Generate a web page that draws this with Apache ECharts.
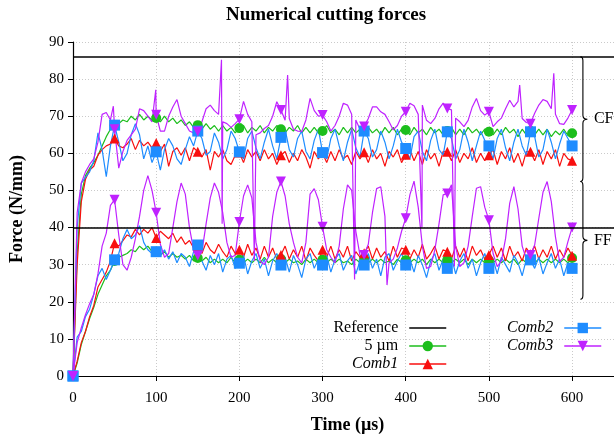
<!DOCTYPE html>
<html>
<head>
<meta charset="utf-8">
<script src="https://cdn.jsdelivr.net/npm/echarts@6/dist/echarts.min.js"></script>
<style>html,body{margin:0;padding:0;background:#fff}#c{width:614px;height:439px}</style>
</head>
<body>
<div id="c"></div>
<script>
// ---- data (time in µs, force in N/mm) ----
const time = [0,5,10,15,20,25,30,35,40,45,50,55,60,65,70,75,80,85,90,95,100,105,110,115,120,125,130,135,140,145,150,155,160,165,170,175,180,185,190,195,200,205,210,215,220,225,230,235,240,245,250,255,260,265,270,275,280,285,290,295,300,305,310,315,320,325,330,335,340,345,350,355,360,365,370,375,380,385,390,395,400,405,410,415,420,425,430,435,440,445,450,455,460,465,470,475,480,485,490,495,500,505,510,515,520,525,530,535,540,545,550,555,560,565,570,575,580,585,590,595,600];

const referenceForces = [86, 40];

const fine5CF = [0,33,49,54,56,57.5,59.5,62,64.5,66.5, 67.5,68,69,68.5,70,69,70.5,69,70,69, 69.5,68.5,70,68.5,69.5,68,69,67.5,68.5,67, 67.6,66.5,68,66.5,67.5,66,67.5,66,67,65.5, 66.8,67.5,65.5,67,66,67.5,65.5,67,66,67.5, 66.5,65.5,67,66,67.5,65.5,67,65.5,67,65.5, 66,67.5,65.5,66.5,65,67,65.5,67,65.5,66.5, 66,67,65.5,66.5,65,67,65.5,67,65,66.5, 66.3,65,67,65.5,66.5,65,67,65.5,66.5,65, 66,67,65,66.5,65,67,65.5,66.5,65,66.5, 65.8,65,66.5,65,67,65.5,66.5,64.5,66.5,65, 66,65,66.5,65,66.5,64.5,66,65,66.5,64.8, 65.4];
const fine5FF = [0,3.5,8.5,12,15.5,18.5,22,24.5,27,28.5, 31,32,32.5,33,34,33.5,35,34,35,33.5, 33.5,32.5,33.5,32,33,32,32.5,31.5,32.5,31, 31.8,31,32,30.5,31.5,30.5,31.5,30.5,32,30.5, 31.3,30.5,31.5,30.5,31.5,30.5,32,30.5,31.5,30.5, 31.5,30.5,31.5,30.5,31,30,31.5,30.5,31.5,30.5, 31.3,30.5,31.5,30.5,31.5,30.5,31,30,31.5,30.5, 31.5,30.5,31.5,30.5,31.5,30.5,31,30,31.5,30.5, 31.2,30.5,31.5,30.5,31.5,30,31.5,30.5,31.5,30.5, 31.3,30.5,31.5,30.5,31.5,30,31.5,30.5,31.5,30.5, 31.2,30.5,31.5,30.5,31.5,30.5,31.5,30,31.5,30.5, 31.3,30.5,31.5,30.5,31.5,30.5,31.5,30.5,31.5,30.5, 31.8];

const comb1CF = [0,30,47,53,55.5,56.5,59.5,61,62,62.5, 64,62,61.5,62.5,64,61,63.5,62,63,61.5, 62.8,60.5,62.5,56.5,60.5,61.5,59.5,61.5,58,61.5, 60.4,59,61,55.5,60.5,59,61,58,57,59.5, 60.2,57.5,61,59,60.5,58,61,58.5,60,57, 59.5,60.5,57.5,60,58,61,59,56,60.5,58.5, 60.1,57.5,60.5,58,61,58.5,59.5,57,60.5,58.5, 60.3,57.5,61,58.5,60,56.5,60.5,59,61,57.5, 59.6,61,58,60.5,57,61,58.5,60,56.5,60.5, 60.4,58,61,57.5,60,58.5,61.5,57.5,60,58, 59.5,61,57,60.5,58.5,61.5,57.5,60,56.5,60.5, 60.4,58,61,57,60.5,58.5,61,56.5,60,58.5, 58];
const comb1FF = [0,4,9,12,16,19,24,26,28,31, 35.8,35,36.5,38,37.5,39.5,38,39.5,38.5,40, 37.2,39,38,37,38.5,36,37.5,35.5,36.5,34.5, 35,33,36,34,33,35.5,33.5,32,35,33, 34,32,35.5,32.5,34.5,31.5,35,32,34.5,31.5, 32.6,35,31.5,34,32,35,31,34.5,32.5,31, 34,32,35,31.5,34,32,35,31,33.5,32, 33.1,35,31.5,34.5,32,33.5,31,35,32,34.5, 34,31.5,34,32,35.5,31.5,33,35,31.5,34, 33.5,31.5,35,32,34.5,31,35,32.5,34,31.5, 32.6,35,32,34.5,31,35,32,33.5,31,34.5, 32.8,35,31.5,34,32,35,31.5,34,32,34.5, 32.4];

const comb2CF = [0,40,52,53.5,55,58,65.5,61,53.7,62, 67.6,63,58,60,65,68,65,58.5,62,57.5, 60.4,55.5,61,64,62,58.5,57,61,64.5,62, 66,64,59.5,60.5,65.5,63,58.5,61,66,64, 60.4,58.5,64,66,61.5,58.5,63,66.5,62,58.5, 64.3,66.5,61,59,64,66,60.5,58.5,63.5,66.5, 60.2,58.5,64,66.5,62,58,63,66.5,61.5,59, 66,64,59,61,66,63,58.5,62,66.5,63, 61.3,58.5,64.5,66,60.5,58,63.5,66.5,61,59.5, 65.8,64,58.5,61,66.5,63,58,62,66,63.5, 62,58.5,64,66.5,61.5,58,63,66.5,62,59.5, 65.8,64.5,59,61,66.5,63,58.5,62.5,66,64, 62];
const comb2FF = [0,10.5,12,16,18,22,27,29,26,28.5, 31.3,33,37,39.5,37,38,40.5,36,34,33, 33.5,32.5,34,31.5,33.5,30.5,33,32,29.5,33.5, 35.3,31,28.5,32.5,30,33,28,31.5,32.5,29, 30.4,32.5,27.5,31,33,29,31.5,27,31,33, 29.9,32,28,32.5,30,26.5,31.5,33,29,31.5, 29.9,32.5,28,31.5,33,28.5,31,32.5,27.5,31, 29.9,33,29,31.5,27,32,33,28.5,31,33, 29.9,31.5,28,32.5,30,26.5,31,33,28.5,31.5, 29,32,27.5,31,33,29,31.5,27,30.5,33, 29,31.5,27.5,32,30,28,32.5,30.5,27,31.5, 31.3,29,32,27.5,30.5,33,29,31.5,27,30.5, 29];

const comb3CF = [0,44,52,55,57,58.5,63,70.5,71,69, 66.5,56,60.5,63.5,65,66.5,72,71.5,70,68.5, 70.4,66,66,70,72.5,74.5,70,68,66,65.5, 65.9,68.5,72,73,71.5,70.5,68.5,68,67,68, 69.2,74,70.5,68.5,65,65.5,66.7,67.5,70,73.9, 71.7,68.9,69.4,66.5,66,65.9,69,74.8,71.5,70, 70.3,68.5,66,67.5,70,73.5,73,70.5,69,66.5, 67.2,69.4,72.5,72.5,71.2,70.5,68.5,66.3,67.5,70, 71.2,73.5,72.8,70.5,73,68.9,68,69.4,72,73.5, 72.1,71.7,69.5,68.5,67.2,68.9,72.5,74.8,71.5,70.3, 71.2,67.2,68.5,69.5,72,74.3,72.5,74,69.4,68.3, 68,70.8,73,74.5,74,72,70.5,68,67.8,69.5, 71.7];
const comb3CFSpikes = [[48.5,72.7],[99.5,77.1],[178.5,85.2],[179.3,41],[218,31],[258,81.1],[338.5,26],[419.5,40],[458.5,29.5],[537,78.4],[578,81.6]];
const comb3FF = [0,9,13,16.5,19.5,22,27.5,35,38.5,46, 47.5,38,30,28.5,32,37,43,50,54,50, 44,35.5,32,33,40,47,52,49,40,34, 32.5,33.5,41,48,52,49.5,44,36,32,32.5, 41.5,48.5,51.5,48,36,31,30,32,43,49.5, 52.4,48.5,41,36,32,30.5,36,49,50.5,47.5, 40.2,34,32,30.5,35,45,51.5,50,39,32.5, 32.6,35.5,44,50.5,51,43,30.5,31.5,34.5,39, 42.5,48.8,52.5,45.5,35,29,29.5,34,41,48.8, 49.2,51.5,35,29.5,30.5,35,43,50.6,51,45.5, 42,33,29.5,31,37,46.5,51,45,35,31.5, 32.6,35.3,42.5,49.5,52.4,47,37.5,30.8,32,36.2, 40];
const comb3FFSpikes = [[377.5,24.5]];

const braceLabels = ['CF', 'FF'];
const braceSpans = [[52.4, 86], [20.7, 52.4]];
const braceTime = 613;

// ---- build ----
const FONT = '"Liberation Serif", "Times New Roman", serif';
function pts(values, extra) {
  const p = values.map((v, i) => [time[i], v]);
  (extra || []).forEach(e => p.push(e));
  p.sort((a, b) => a[0] - b[0]);
  return p;
}
function curve(name, color, symbol, size, values, extra, rotate) {
  return {
    name, type: 'line', data: pts(values, extra),
    symbol, symbolRotate: rotate || 0,
    symbolSize: (v) => (v[0] % 50 === 0 ? size : 0),
    showSymbol: true, showAllSymbol: true,
    lineStyle: { color, width: 1.2 },
    itemStyle: { color, borderWidth: 0 },
    silent: true, animation: false
  };
}
const green = '#1cbe1c', red = '#f80f0f', blue = '#1e8cff', purple = '#bf22ff';

const legendText = {
  fontFamily: FONT, fontSize: 16, color: '#000', lineHeight: 16,
  rich: {
    n: { fontFamily: FONT, fontSize: 16, lineHeight: 16, padding: [0, 6, 0, 0], color: '#000' },
    i: { fontFamily: FONT, fontSize: 16, lineHeight: 16, fontStyle: 'italic', padding: [0, 6, 0, 0], color: '#000' }
  }
};
const legendFmt = (name) => (name.indexOf('Comb') === 0 ? '{i|' + name + '}' : '{n|' + name + '}');

const option = {
  animation: false,
  backgroundColor: '#fff',
  title: {
    text: 'Numerical cutting forces', left: 226, top: 6, padding: 0,
    textStyle: { fontFamily: FONT, fontWeight: 'bold', fontSize: 19, color: '#000' }
  },
  grid: { left: 73, top: 42, width: 549, height: 334, outerBoundsMode: 'none', containLabel: false },
  legend: [
    { data: ['Reference', '5 µm', 'Comb1'], orient: 'vertical', align: 'right', right: 167, top: 320, padding: 0,
      itemWidth: 37, itemHeight: 13, itemGap: 2, selectedMode: false, textStyle: legendText, formatter: legendFmt,
      lineStyle: { width: 1.5 } },
    { data: ['Comb2', 'Comb3'], orient: 'vertical', align: 'right', right: 12, top: 320, padding: 0,
      itemWidth: 37, itemHeight: 13, itemGap: 2, selectedMode: false, textStyle: legendText, formatter: legendFmt,
      lineStyle: { width: 1.5 } }
  ],
  xAxis: {
    type: 'value', min: 0, max: 660, interval: 100,
    name: 'Time (µs)', nameLocation: 'middle', nameGap: 40,
    nameTextStyle: { fontFamily: FONT, fontWeight: 'bold', fontSize: 18, color: '#000' },
    axisLine: { show: true, onZero: false, lineStyle: { color: '#000', width: 1.2 } },
    axisTick: { show: true, inside: false, length: 5, lineStyle: { color: '#000', width: 1 } },
    axisLabel: { fontFamily: FONT, fontSize: 15, color: '#000', margin: 15, showMaxLabel: false },
    splitLine: { show: true, lineStyle: { color: '#bdbdbd', type: [1, 2], width: 0.8 } }
  },
  yAxis: {
    type: 'value', min: 0, max: 90, interval: 10,
    name: 'Force (N/mm)', nameLocation: 'middle', nameGap: 47,
    nameTextStyle: { fontFamily: FONT, fontWeight: 'bold', fontSize: 18, color: '#000' },
    axisLine: { show: true, onZero: false, lineStyle: { color: '#000', width: 1.2 } },
    axisTick: { show: true, inside: false, length: 5, lineStyle: { color: '#000', width: 1 } },
    axisLabel: { fontFamily: FONT, fontSize: 15, color: '#000', margin: 9 },
    splitLine: { show: true, lineStyle: { color: '#bdbdbd', type: [1, 2], width: 0.8 } }
  },
  series: [
    {
      name: 'Reference', type: 'line', data: [], symbol: 'circle',
      lineStyle: { color: '#000', width: 1.5 }, itemStyle: { color: '#000', opacity: 0 },
      markLine: {
        silent: true, symbol: ['none', 'none'], label: { show: false }, animation: false,
        lineStyle: { color: '#000', width: 1.6, type: 'solid' },
        emphasis: { disabled: true },
        data: referenceForces.map(v => ({ yAxis: v }))
      }
    },
    curve('5 µm', green, 'circle', 10, fine5CF),
    curve('5 µm', green, 'circle', 10, fine5FF),
    curve('Comb1', red, 'triangle', 10, comb1CF),
    curve('Comb1', red, 'triangle', 10, comb1FF),
    curve('Comb2', blue, 'rect', 11, comb2CF),
    curve('Comb2', blue, 'rect', 11, comb2FF),
    curve('Comb3', purple, 'triangle', 10, comb3CF, comb3CFSpikes, 180),
    curve('Comb3', purple, 'triangle', 10, comb3FF, comb3FFSpikes, 180),
    {
      type: 'custom', silent: true, clip: false, z: 5,
      data: braceSpans.map(s => [braceTime, s[0], s[1]]),
      renderItem: function (params, api) {
        const t = api.value(0), lo = api.value(1), hi = api.value(2);
        const pT = api.coord([t, hi]), pB = api.coord([t, lo]);
        const bx = pT[0], yt = pT[1], yb = pB[1], ym = (yt + yb) / 2;
        const d = 'M' + (bx - 2.5) + ' ' + yt + ' Q' + bx + ' ' + yt + ' ' + bx + ' ' + (yt + 4) +
          ' L' + bx + ' ' + (ym - 4) + ' Q' + bx + ' ' + ym + ' ' + (bx + 4.5) + ' ' + ym +
          ' Q' + bx + ' ' + ym + ' ' + bx + ' ' + (ym + 4) +
          ' L' + bx + ' ' + (yb - 4) + ' Q' + bx + ' ' + yb + ' ' + (bx - 2.5) + ' ' + yb;
        return {
          type: 'group',
          children: [
            { type: 'path', shape: { pathData: d }, style: { fill: 'none', stroke: '#000', lineWidth: 1.1 } },
            { type: 'text', style: { text: braceLabels[params.dataIndex], x: bx + 11, y: ym, align: 'left',
              verticalAlign: 'middle', fontFamily: FONT, fontSize: 16, fill: '#000' } }
          ]
        };
      }
    }
  ]
};
const chart = echarts.init(document.getElementById('c'), null, { renderer: 'canvas' });
chart.setOption(option);
</script>
</body>
</html>
